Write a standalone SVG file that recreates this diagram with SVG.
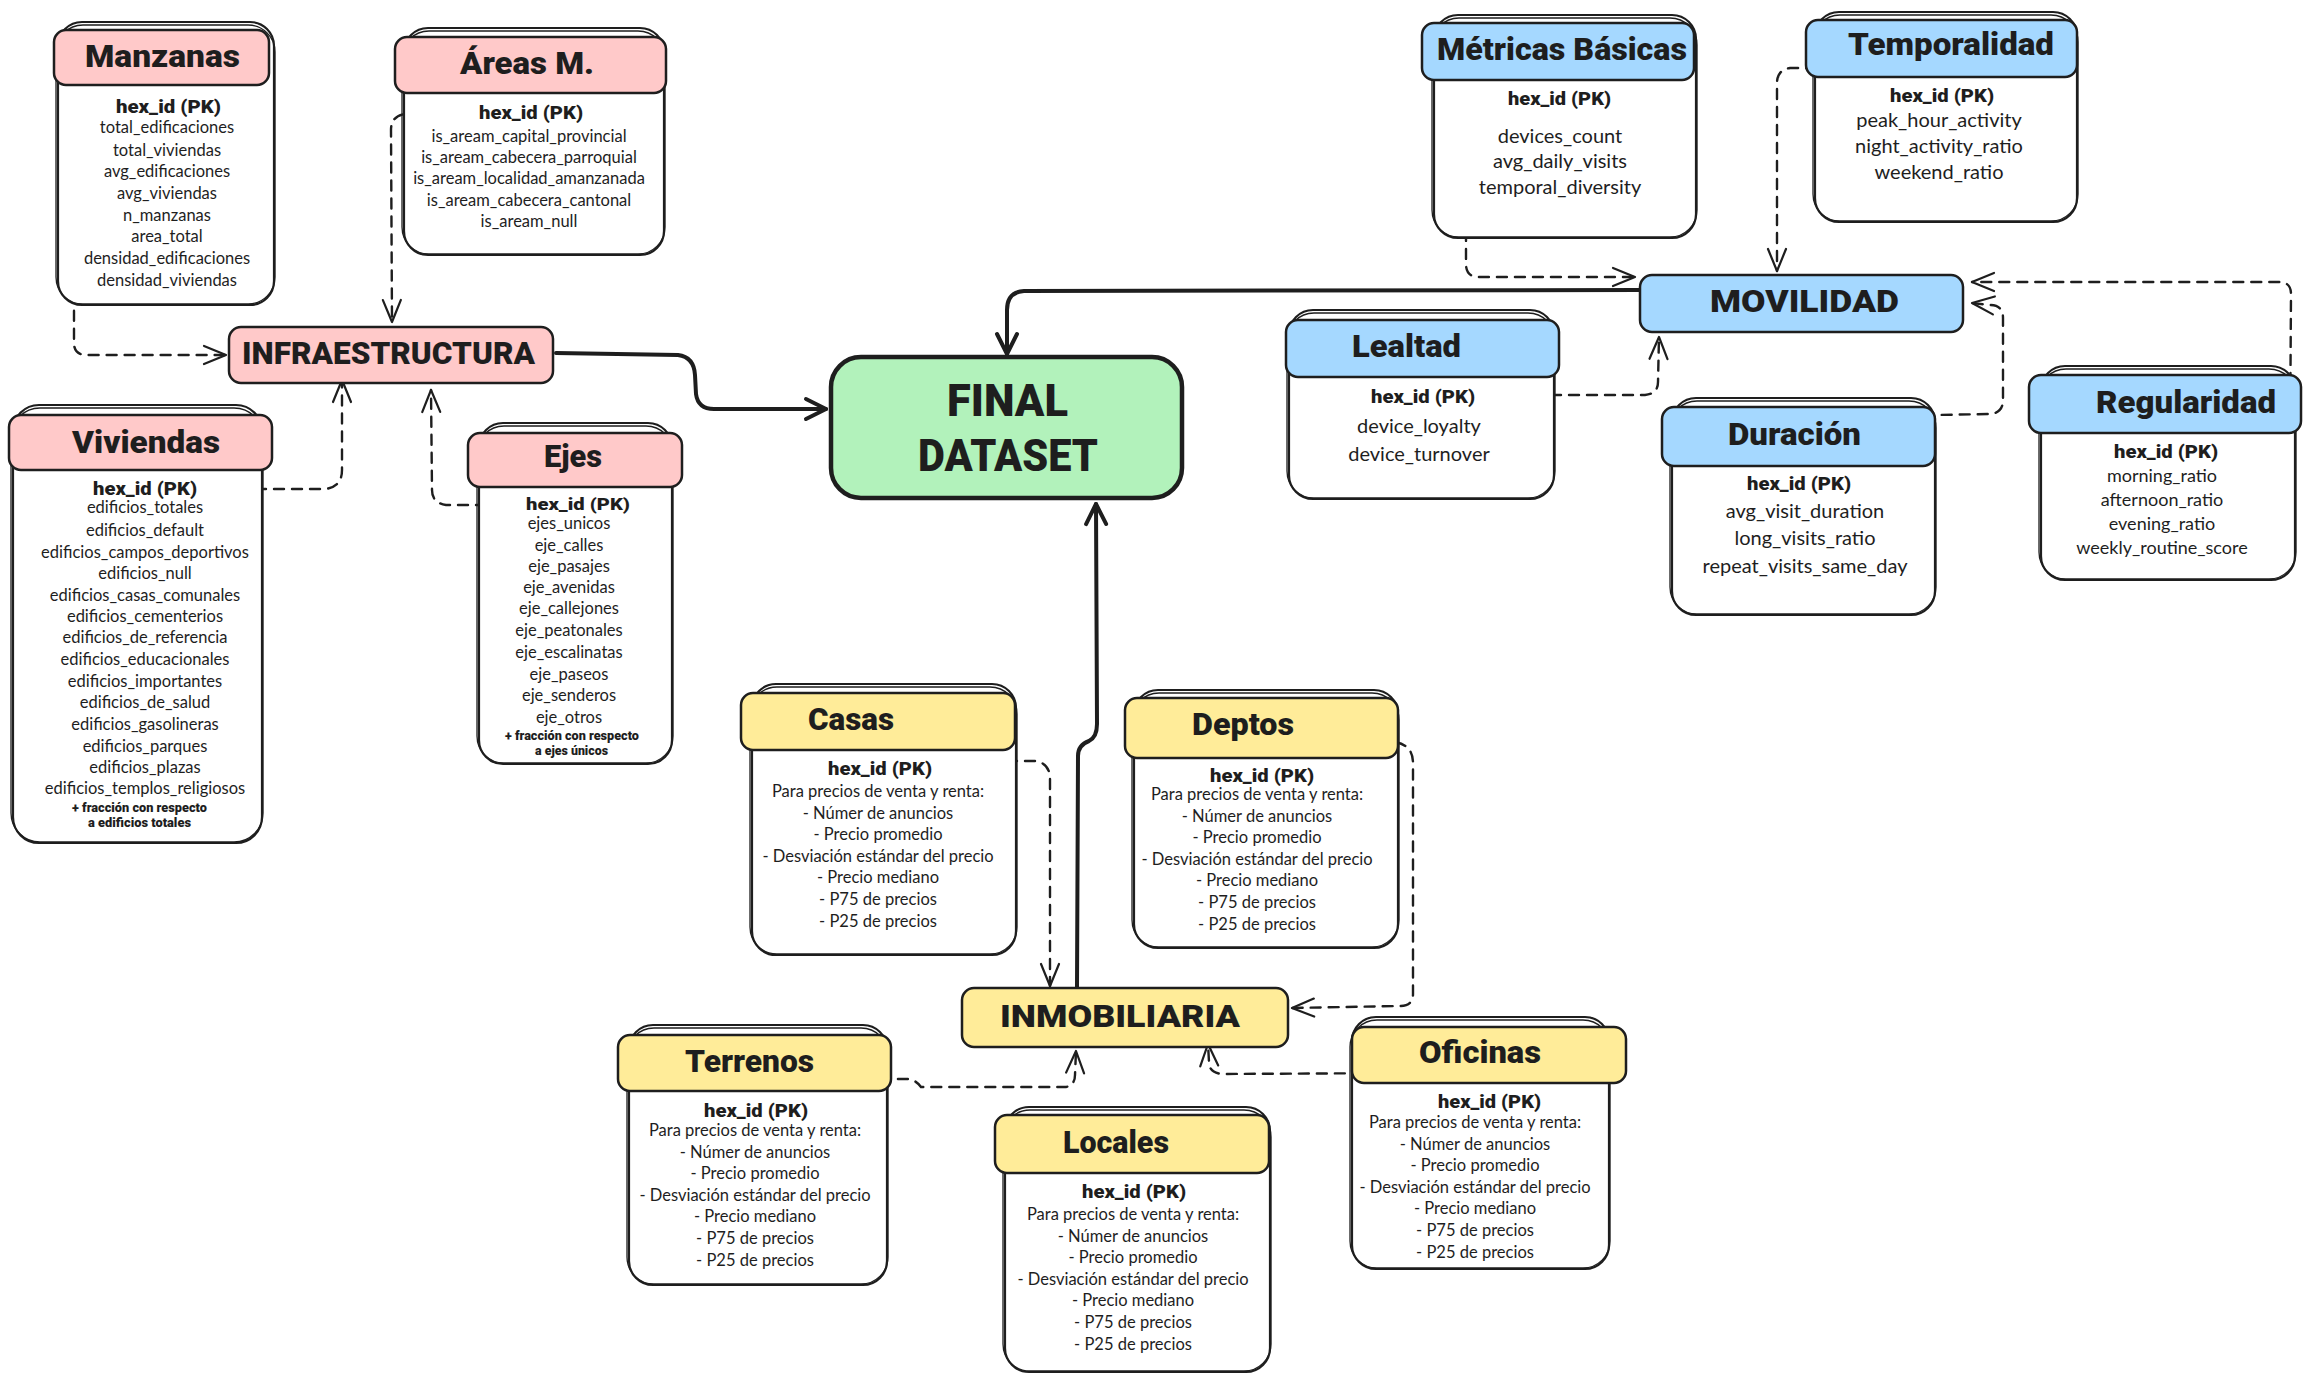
<svg xmlns="http://www.w3.org/2000/svg" xmlns:xlink="http://www.w3.org/1999/xlink" width="2310" height="1382" viewBox="0 0 2310 1382">
<style>
.bg{fill:#ffffff}
.body{fill:#ffffff;stroke:#1e1e1e;stroke-width:2.2}
.body2{fill:none;stroke:#1e1e1e;stroke-width:1.3}
.hp{fill:#ffc9c9;stroke:#1e1e1e;stroke-width:2.5}
.hb{fill:#a5d8ff;stroke:#1e1e1e;stroke-width:2.5}
.hy{fill:#ffec99;stroke:#1e1e1e;stroke-width:2.5}
.hg{fill:#b2f2bb;stroke:#1e1e1e;stroke-width:4.5}
.t{font-family:Roboto,"Liberation Sans",sans-serif;font-weight:900;font-size:32px;fill:#1e1e1e}
.t44{font-size:44px}
.pk{font-family:Roboto,"Liberation Sans",sans-serif;font-weight:900;font-size:19px;fill:#1e1e1e}
.pk17{font-size:17px}
.f{font-family:Lato,"Open Sans",sans-serif;font-size:16.5px;fill:#1e1e1e;text-anchor:middle}
.f20{font-size:20px}
.f18{font-size:18px}
.note{font-family:Roboto,"Liberation Sans",sans-serif;font-weight:900;font-size:12px;fill:#1e1e1e}
.dash{fill:none;stroke:#1e1e1e;stroke-width:2.4;stroke-dasharray:10 8;stroke-linecap:round;marker-end:url(#ah)}
.thick{fill:none;stroke:#1e1e1e;stroke-width:4;stroke-linecap:round;stroke-linejoin:round;marker-end:url(#aht)}
</style>
<defs>
<marker id="ah" markerUnits="userSpaceOnUse" markerWidth="30" markerHeight="30" refX="0" refY="0" orient="auto" style="overflow:visible">
<path d="M -22 -9 L 0 0 L -22 9" fill="none" stroke="#1e1e1e" stroke-width="2.2" stroke-linecap="round" stroke-linejoin="round"/>
</marker>
<marker id="aht" markerUnits="userSpaceOnUse" markerWidth="30" markerHeight="30" refX="0" refY="0" orient="auto" style="overflow:visible">
<path d="M -20 -10 L 0 0 L -20 10" fill="none" stroke="#1e1e1e" stroke-width="4" stroke-linecap="round" stroke-linejoin="round"/>
</marker>
<g id="prices">
<text class="f" x="0" y="0">Para precios de venta y renta:</text>
<text class="f" x="0" y="21.6">- Númer de anuncios</text>
<text class="f" x="0" y="43.2">- Precio promedio</text>
<text class="f" x="0" y="64.8">- Desviación estándar del precio</text>
<text class="f" x="0" y="86.4">- Precio mediano</text>
<text class="f" x="0" y="108">- P75 de precios</text>
<text class="f" x="0" y="129.6">- P25 de precios</text>
</g>
</defs>
<rect class="bg" x="0" y="0" width="2310" height="1382"/>

<g id="connectors">
<path class="dash" d="M 112 108 L 86 109 Q 74 111 74 124 L 74 343 Q 74 355 87 355 L 226 355"/>
<path class="dash" d="M 475 114 L 405 114 Q 391 116 391 130 L 392 322"/>
<path class="dash" d="M 202 489 L 325 489 Q 342 487 342 470 L 342 380"/>
<path class="dash" d="M 522 505 L 446 505 Q 432 503 432 490 L 431 390"/>
<path class="thick" d="M 556 353 L 678 355 Q 694 357 695 375 L 696 394 Q 698 409 714 409 L 826 409"/>
<path class="thick" d="M 1640 290 L 1024 291 Q 1007 292 1007 310 L 1007 354"/>
<path class="thick" d="M 1077 988 L 1078 756 Q 1078 745 1089 741 Q 1097 737 1097 724 L 1096 504"/>
<path class="dash" d="M 1505 100 L 1476 102 Q 1466 106 1466 119 L 1466 264 Q 1466 277 1479 277 L 1635 277"/>
<path class="dash" d="M 1879 100 L 1879 78 Q 1878 69 1867 68 L 1790 68 Q 1777 70 1777 83 L 1777 271"/>
<path class="dash" d="M 1479 395 L 1645 395 Q 1658 394 1658 382 L 1659 337"/>
<path class="dash" d="M 1870 493 L 1870 426 Q 1871 416 1883 416 L 1990 414 Q 2003 413 2003 400 L 2003 318 Q 2003 305 1990 305 L 1972 303"/>
<path class="dash" d="M 2255 462 L 2281 461 Q 2290 458 2290 447 L 2291 294 Q 2291 282 2279 282 L 1972 282"/>
<path class="dash" d="M 935 761 L 1035 761 Q 1050 763 1050 779 L 1050 986"/>
<path class="dash" d="M 1196 780 L 1196 750 Q 1197 742 1208 742 L 1395 742 Q 1413 745 1413 763 L 1413 994 Q 1413 1006 1400 1006 L 1292 1008"/>
<path class="dash" d="M 822 1115 L 822 1087 Q 823 1079 833 1079 L 908 1079 Q 916 1080 921 1087 L 1066 1087 Q 1075 1085 1075 1075 L 1076 1051"/>
<path class="dash" d="M 1423 1108 L 1423 1083 Q 1421 1073 1409 1073 L 1222 1074 Q 1209 1073 1209 1062 L 1208 1044"/>
</g>

<g id="manzanas">
<rect class="body" x="58" y="22" width="216" height="283" rx="24"/>
<rect class="body2" x="56" y="25" width="219" height="279" rx="27"/>
<rect class="hp" x="54" y="30" width="215" height="55" rx="12"/>
<text class="t" x="85" y="67" textLength="155" lengthAdjust="spacingAndGlyphs">Manzanas</text>
<text class="pk" x="116" y="113" textLength="105" lengthAdjust="spacingAndGlyphs">hex_id (PK)</text>
<text class="f" x="167" y="133">total_edificaciones</text>
<text class="f" x="167" y="156">total_viviendas</text>
<text class="f" x="167" y="177">avg_edificaciones</text>
<text class="f" x="167" y="199">avg_viviendas</text>
<text class="f" x="167" y="221">n_manzanas</text>
<text class="f" x="167" y="242">area_total</text>
<text class="f" x="167" y="264">densidad_edificaciones</text>
<text class="f" x="167" y="286">densidad_viviendas</text>
</g>

<g id="areas">
<rect class="body" x="404" y="28" width="260" height="227" rx="24"/>
<rect class="body2" x="402" y="31" width="263" height="223" rx="27"/>
<rect class="hp" x="395" y="37" width="271" height="56" rx="12"/>
<text class="t" x="460" y="74" textLength="134" lengthAdjust="spacingAndGlyphs">Áreas M.</text>
<text class="pk" x="479" y="119" textLength="104" lengthAdjust="spacingAndGlyphs">hex_id (PK)</text>
<text class="f" x="529" y="142">is_aream_capital_provincial</text>
<text class="f" x="529" y="163">is_aream_cabecera_parroquial</text>
<text class="f" x="529" y="184">is_aream_localidad_amanzanada</text>
<text class="f" x="529" y="206">is_aream_cabecera_cantonal</text>
<text class="f" x="529" y="227">is_aream_null</text>
</g>

<g id="infraestructura">
<rect class="hp" x="229" y="327" width="324" height="56" rx="12"/>
<text class="t" x="242" y="364" textLength="293" lengthAdjust="spacingAndGlyphs">INFRAESTRUCTURA</text>
</g>

<g id="viviendas">
<rect class="body" x="13" y="405" width="249" height="438" rx="26"/>
<rect class="body2" x="11" y="408" width="252" height="434" rx="29"/>
<rect class="hp" x="9" y="415" width="263" height="55" rx="12"/>
<text class="t" x="72" y="453" textLength="148" lengthAdjust="spacingAndGlyphs">Viviendas</text>
<text class="pk" x="93" y="495" textLength="104" lengthAdjust="spacingAndGlyphs">hex_id (PK)</text>
<text class="f" x="145" y="513">edificios_totales</text>
<text class="f" x="145" y="536">edificios_default</text>
<text class="f" x="145" y="558">edificios_campos_deportivos</text>
<text class="f" x="145" y="579">edificios_null</text>
<text class="f" x="145" y="601">edificios_casas_comunales</text>
<text class="f" x="145" y="622">edificios_cementerios</text>
<text class="f" x="145" y="643">edificios_de_referencia</text>
<text class="f" x="145" y="665">edificios_educacionales</text>
<text class="f" x="145" y="687">edificios_importantes</text>
<text class="f" x="145" y="708">edificios_de_salud</text>
<text class="f" x="145" y="730">edificios_gasolineras</text>
<text class="f" x="145" y="752">edificios_parques</text>
<text class="f" x="145" y="773">edificios_plazas</text>
<text class="f" x="145" y="794">edificios_templos_religiosos</text>
<text class="note" x="72" y="812" textLength="135" lengthAdjust="spacingAndGlyphs">+ fracción con respecto</text>
<text class="note" x="88" y="827" textLength="103" lengthAdjust="spacingAndGlyphs">a edificios totales</text>
</g>

<g id="ejes">
<rect class="body" x="479" y="423" width="193" height="341" rx="24"/>
<rect class="body2" x="477" y="426" width="196" height="337" rx="27"/>
<rect class="hp" x="468" y="433" width="214" height="54" rx="12"/>
<text class="t" x="544" y="467" textLength="58" lengthAdjust="spacingAndGlyphs">Ejes</text>
<text class="pk pk17" x="526" y="510" textLength="104" lengthAdjust="spacingAndGlyphs">hex_id (PK)</text>
<text class="f" x="569" y="529">ejes_unicos</text>
<text class="f" x="569" y="551">eje_calles</text>
<text class="f" x="569" y="572">eje_pasajes</text>
<text class="f" x="569" y="593">eje_avenidas</text>
<text class="f" x="569" y="614">eje_callejones</text>
<text class="f" x="569" y="636">eje_peatonales</text>
<text class="f" x="569" y="658">eje_escalinatas</text>
<text class="f" x="569" y="680">eje_paseos</text>
<text class="f" x="569" y="701">eje_senderos</text>
<text class="f" x="569" y="723">eje_otros</text>
<text class="note" x="505" y="740" textLength="134" lengthAdjust="spacingAndGlyphs">+ fracción con respecto</text>
<text class="note" x="535" y="755" textLength="73" lengthAdjust="spacingAndGlyphs">a ejes únicos</text>
</g>

<g id="final-dataset">
<rect class="hg" x="831" y="357" width="351" height="141" rx="30"/>
<text class="t t44" x="947" y="416" textLength="121" lengthAdjust="spacingAndGlyphs">FINAL</text>
<text class="t t44" x="918" y="471" textLength="180" lengthAdjust="spacingAndGlyphs">DATASET</text>
</g>

<g id="metricas-basicas">
<rect class="body" x="1434" y="15" width="262" height="223" rx="24"/>
<rect class="body2" x="1432" y="18" width="265" height="219" rx="27"/>
<rect class="hb" x="1422" y="23" width="272" height="57" rx="12"/>
<text class="t" x="1437" y="60" textLength="250" lengthAdjust="spacingAndGlyphs">Métricas Básicas</text>
<text class="pk" x="1508" y="105" textLength="103" lengthAdjust="spacingAndGlyphs">hex_id (PK)</text>
<text class="f f20" x="1560" y="143">devices_count</text>
<text class="f f20" x="1560" y="168">avg_daily_visits</text>
<text class="f f20" x="1560" y="194">temporal_diversity</text>
</g>

<g id="temporalidad">
<rect class="body" x="1815" y="12" width="262" height="210" rx="24"/>
<rect class="body2" x="1813" y="15" width="265" height="206" rx="27"/>
<rect class="hb" x="1806" y="20" width="271" height="57" rx="12"/>
<text class="t" x="1848" y="55" textLength="206" lengthAdjust="spacingAndGlyphs">Temporalidad</text>
<text class="pk" x="1890" y="102" textLength="104" lengthAdjust="spacingAndGlyphs">hex_id (PK)</text>
<text class="f f20" x="1939" y="127">peak_hour_activity</text>
<text class="f f20" x="1939" y="153">night_activity_ratio</text>
<text class="f f20" x="1939" y="179">weekend_ratio</text>
</g>

<g id="movilidad">
<rect class="hb" x="1640" y="275" width="323" height="57" rx="12"/>
<text class="t" x="1710" y="312" textLength="189" lengthAdjust="spacingAndGlyphs">MOVILIDAD</text>
</g>

<g id="lealtad">
<rect class="body" x="1289" y="310" width="265" height="189" rx="24"/>
<rect class="body2" x="1287" y="313" width="268" height="185" rx="27"/>
<rect class="hb" x="1286" y="320" width="273" height="57" rx="12"/>
<text class="t" x="1352" y="357" textLength="109" lengthAdjust="spacingAndGlyphs">Lealtad</text>
<text class="pk" x="1371" y="403" textLength="104" lengthAdjust="spacingAndGlyphs">hex_id (PK)</text>
<text class="f f20" x="1419" y="433">device_loyalty</text>
<text class="f f20" x="1419" y="461">device_turnover</text>
</g>

<g id="duracion">
<rect class="body" x="1672" y="398" width="263" height="217" rx="24"/>
<rect class="body2" x="1670" y="401" width="266" height="213" rx="27"/>
<rect class="hb" x="1662" y="407" width="273" height="59" rx="12"/>
<text class="t" x="1728" y="445" textLength="133" lengthAdjust="spacingAndGlyphs">Duración</text>
<text class="pk" x="1747" y="490" textLength="104" lengthAdjust="spacingAndGlyphs">hex_id (PK)</text>
<text class="f f20" x="1805" y="518">avg_visit_duration</text>
<text class="f f20" x="1805" y="545">long_visits_ratio</text>
<text class="f f20" x="1805" y="573">repeat_visits_same_day</text>
</g>

<g id="regularidad">
<rect class="body" x="2041" y="366" width="254" height="214" rx="24"/>
<rect class="body2" x="2039" y="369" width="257" height="210" rx="27"/>
<rect class="hb" x="2029" y="375" width="272" height="58" rx="12"/>
<text class="t" x="2096" y="413" textLength="180" lengthAdjust="spacingAndGlyphs">Regularidad</text>
<text class="pk" x="2114" y="458" textLength="104" lengthAdjust="spacingAndGlyphs">hex_id (PK)</text>
<text class="f f18" x="2162" y="482">morning_ratio</text>
<text class="f f18" x="2162" y="506">afternoon_ratio</text>
<text class="f f18" x="2162" y="530">evening_ratio</text>
<text class="f f18" x="2162" y="554">weekly_routine_score</text>
</g>

<g id="casas">
<rect class="body" x="752" y="684" width="264" height="271" rx="24"/>
<rect class="body2" x="750" y="687" width="267" height="267" rx="27"/>
<rect class="hy" x="741" y="693" width="274" height="57" rx="12"/>
<text class="t" x="808" y="730" textLength="86" lengthAdjust="spacingAndGlyphs">Casas</text>
<text class="pk" x="828" y="775" textLength="104" lengthAdjust="spacingAndGlyphs">hex_id (PK)</text>
<use xlink:href="#prices" href="#prices" x="878" y="797"/>
</g>

<g id="deptos">
<rect class="body" x="1134" y="690" width="264" height="258" rx="24"/>
<rect class="body2" x="1132" y="693" width="267" height="254" rx="27"/>
<rect class="hy" x="1125" y="698" width="273" height="60" rx="12"/>
<text class="t" x="1192" y="735" textLength="102" lengthAdjust="spacingAndGlyphs">Deptos</text>
<text class="pk" x="1210" y="782" textLength="104" lengthAdjust="spacingAndGlyphs">hex_id (PK)</text>
<use xlink:href="#prices" href="#prices" x="1257" y="800"/>
</g>

<g id="inmobiliaria">
<rect class="hy" x="962" y="988" width="326" height="59" rx="12"/>
<text class="t" x="1000" y="1027" textLength="240" lengthAdjust="spacingAndGlyphs">INMOBILIARIA</text>
</g>

<g id="terrenos">
<rect class="body" x="629" y="1025" width="258" height="260" rx="24"/>
<rect class="body2" x="627" y="1028" width="261" height="256" rx="27"/>
<rect class="hy" x="618" y="1035" width="273" height="56" rx="12"/>
<text class="t" x="685" y="1072" textLength="129" lengthAdjust="spacingAndGlyphs">Terrenos</text>
<text class="pk" x="704" y="1117" textLength="104" lengthAdjust="spacingAndGlyphs">hex_id (PK)</text>
<use xlink:href="#prices" href="#prices" x="755" y="1136"/>
</g>

<g id="locales">
<rect class="body" x="1005" y="1107" width="265" height="265" rx="24"/>
<rect class="body2" x="1003" y="1110" width="268" height="261" rx="27"/>
<rect class="hy" x="995" y="1115" width="274" height="58" rx="12"/>
<text class="t" x="1063" y="1153" textLength="106" lengthAdjust="spacingAndGlyphs">Locales</text>
<text class="pk" x="1082" y="1198" textLength="104" lengthAdjust="spacingAndGlyphs">hex_id (PK)</text>
<use xlink:href="#prices" href="#prices" x="1133" y="1220"/>
</g>

<g id="oficinas">
<rect class="body" x="1352" y="1017" width="257" height="252" rx="24"/>
<rect class="body2" x="1350" y="1020" width="260" height="248" rx="27"/>
<rect class="hy" x="1352" y="1027" width="274" height="56" rx="12"/>
<text class="t" x="1419" y="1063" textLength="122" lengthAdjust="spacingAndGlyphs">Oficinas</text>
<text class="pk" x="1438" y="1108" textLength="103" lengthAdjust="spacingAndGlyphs">hex_id (PK)</text>
<use xlink:href="#prices" href="#prices" x="1475" y="1128"/>
</g>
</svg>
